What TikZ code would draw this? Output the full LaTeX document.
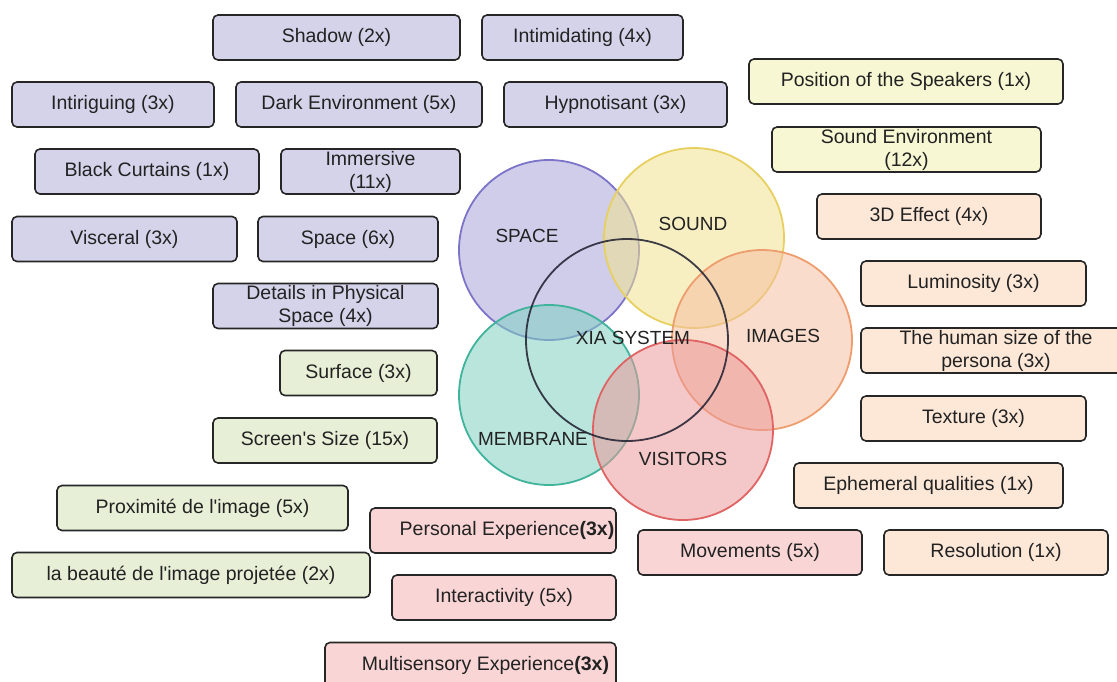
\documentclass[tikz,border=0pt]{standalone}
\usepackage{fontspec}
\setmainfont{Liberation Sans}
% Farben
\definecolor{schrift}{HTML}{222222}
\definecolor{rand}{HTML}{262626}
\definecolor{lilabox}{HTML}{D5D3EA}
\definecolor{gelbbox}{HTML}{F8F7D4}
\definecolor{pfirsichbox}{HTML}{FDE8D8}
\definecolor{gruenbox}{HTML}{E7EFD6}
\definecolor{rosabox}{HTML}{F9D5D5}
\definecolor{spacefill}{HTML}{A9A4DA}
\definecolor{spaceline}{HTML}{7B74C9}
\definecolor{soundfill}{HTML}{F0E290}
\definecolor{soundline}{HTML}{E8D060}
\definecolor{imagefill}{HTML}{F4BFA0}
\definecolor{imageline}{HTML}{EE9D6E}
\definecolor{membranefill}{HTML}{80CFC0}
\definecolor{membraneline}{HTML}{40B39B}
\definecolor{visitorfill}{HTML}{EB9A9A}
\definecolor{visitorline}{HTML}{E06464}
\definecolor{xialine}{HTML}{1E1E2E}
\tikzset{
  kasten/.style={draw=rand,line width=1.6pt,rounded corners=5pt,minimum height=45pt,
    inner sep=0pt,align=center,text=schrift,font=\fontsize{19.5}{23}\selectfont},
  lila/.style={kasten,fill=lilabox},
  gelb/.style={kasten,fill=gelbbox},
  pfirsich/.style={kasten,fill=pfirsichbox},
  gruen/.style={kasten,fill=gruenbox},
  rosa/.style={kasten,fill=rosabox},
  kreis/.style={line width=1.8pt,fill opacity=0.55},
  titel/.style={text=schrift,font=\fontsize{19}{21}\selectfont}
}
\begin{document}
\begin{tikzpicture}[x=1pt,y=-1pt]
  \clip (0,0) rectangle (1117,681);
  % die Kreise
  \draw[kreis,draw=spaceline,fill=spacefill] (549,250) circle (90pt);
  \draw[kreis,draw=soundline,fill=soundfill] (694,238) circle (90pt);
  \draw[kreis,draw=imageline,fill=imagefill] (762,340) circle (90pt);
  \draw[kreis,draw=membraneline,fill=membranefill] (549,395) circle (90pt);
  \draw[kreis,draw=visitorline,fill=visitorfill] (683,430) circle (90pt);
  \draw[line width=1.8pt,draw=xialine,draw opacity=0.85] (627,340) circle (101pt); % XIA
  \node[titel] (space) at (527,236) {SPACE};
  \node[titel] (sound) at (693,224) {SOUND};
  \node[titel] (images) at (783,336) {IMAGES};
  \node[titel] (membrane) at (533,439) {MEMBRANE};
  \node[titel] (visitors) at (683,459) {VISITORS};
  \node[titel] (xia) at (633,338) {XIA SYSTEM};
  % Space
  \foreach \n/\x/\y/\w/\t in {shadow/336.5/37.5/247/{Shadow (2x)},
      intimidating/582.5/37.5/201/{Intimidating (4x)},
      intriguing/113/104.5/202/{Intiriguing (3x)},
      darkenv/359/104.5/246/{Dark Environment (5x)},
      hypno/615.5/104.5/223/{Hypnotisant (3x)},
      curtains/147/171.5/224/{Black Curtains (1x)},
      immersive/370.5/171.5/179/{Immersive\\(11x)},
      visceral/124.5/239/225/{Visceral (3x)},
      spacesix/348/239/180/{Space (6x)},
      details/325.5/306/225/{Details in Physical\\Space (4x)}}
    \node[lila,minimum width=\w pt] (\n) at (\x,\y) {\t};
  % Sound
  \foreach \n/\x/\y/\w/\t in {speakers/906/81.5/314/{Position of the Speakers (1x)},
      soundenv/906.5/149.5/269/{Sound Environment\\(12x)}}
    \node[gelb,minimum width=\w pt] (\n) at (\x,\y) {\t};
  % Images
  \foreach \n/\x/\y/\w/\t in {effect/929/216.5/224/{3D Effect (4x)},
      lumin/973.5/283.5/225/{Luminosity (3x)},
      humansize/996/350.5/270/{The human size of the\\persona (3x)},
      texture/973.5/418.5/225/{Texture (3x)},
      ephemeral/928.5/485.5/269/{Ephemeral qualities (1x)},
      resolution/996/552.5/224/{Resolution (1x)}}
    \node[pfirsich,minimum width=\w pt] (\n) at (\x,\y) {\t};
  % Membrane
  \foreach \n/\x/\y/\w/\t in {surface/358.5/373/157/{Surface (3x)},
      screensize/325/440.5/224/{Screen\textquotesingle s Size (15x)},
      proximite/202.5/508/291/{Proximité de l\textquotesingle image (5x)},
      beaute/191/575/358/{la beauté de l\textquotesingle image projetée (2x)}}
    \node[gruen,minimum width=\w pt] (\n) at (\x,\y) {\t};
  % Visitors
  \foreach \n/\x/\y/\w/\t in {personal/493/530.5/246/{\hspace*{28pt}Personal Experience\textbf{(3x)}},
      interact/504/597.5/224/{Interactivity (5x)},
      multisens/470.5/665/291/{\hspace*{30pt}Multisensory Experience\textbf{(3x)}},
      movements/750/552.5/224/{Movements (5x)}}
    \node[rosa,minimum width=\w pt] (\n) at (\x,\y) {\t};
\end{tikzpicture}
\end{document}
